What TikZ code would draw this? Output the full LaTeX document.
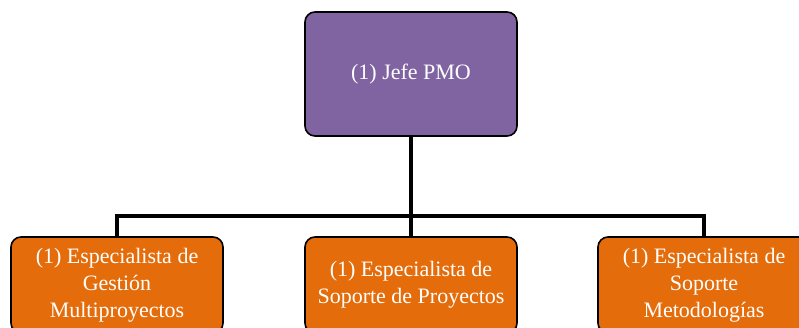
\documentclass[tikz,border=0pt]{standalone}
\usepackage{fontspec}
\setmainfont{Liberation Serif}
\definecolor{purpleC}{HTML}{8064A2}
\definecolor{orangeC}{HTML}{E46C0A}
\begin{document}
\begin{tikzpicture}[x=1pt,y=-1pt,
  orgbox/.style={draw=black, line width=1.6pt, rounded corners=10pt, text=white,
    align=center, font=\fontsize{22}{27}\selectfont, inner sep=0pt, minimum width=212pt},
  headbox/.style={orgbox, fill=purpleC, minimum height=124pt},
  staffbox/.style={orgbox, fill=orangeC, minimum height=96pt},
  conn/.style={draw=black, line width=3.5pt}]
\useasboundingbox (0,0) rectangle (799,327);
\clip (0,0) rectangle (799,327);
\node[headbox] (pmo) at (411,74) {(1) Jefe PMO};
\node[staffbox] (a) at (117,285) {(1) Especialista de\\Gestión\\Multiproyectos};
\node[staffbox] (b) at (411,285) {(1) Especialista de\\Soporte de Proyectos};
\node[staffbox] (c) at (704,285) {(1) Especialista de\\Soporte\\Metodologías};
\coordinate (bus) at (411,216);
\draw[conn] (pmo.south) -- (bus);
\draw[conn] (a.north) -- (a.north |- bus) -- (c.north |- bus) -- (c.north);
\draw[conn] (bus) -- (b.north);
\end{tikzpicture}
\end{document}
